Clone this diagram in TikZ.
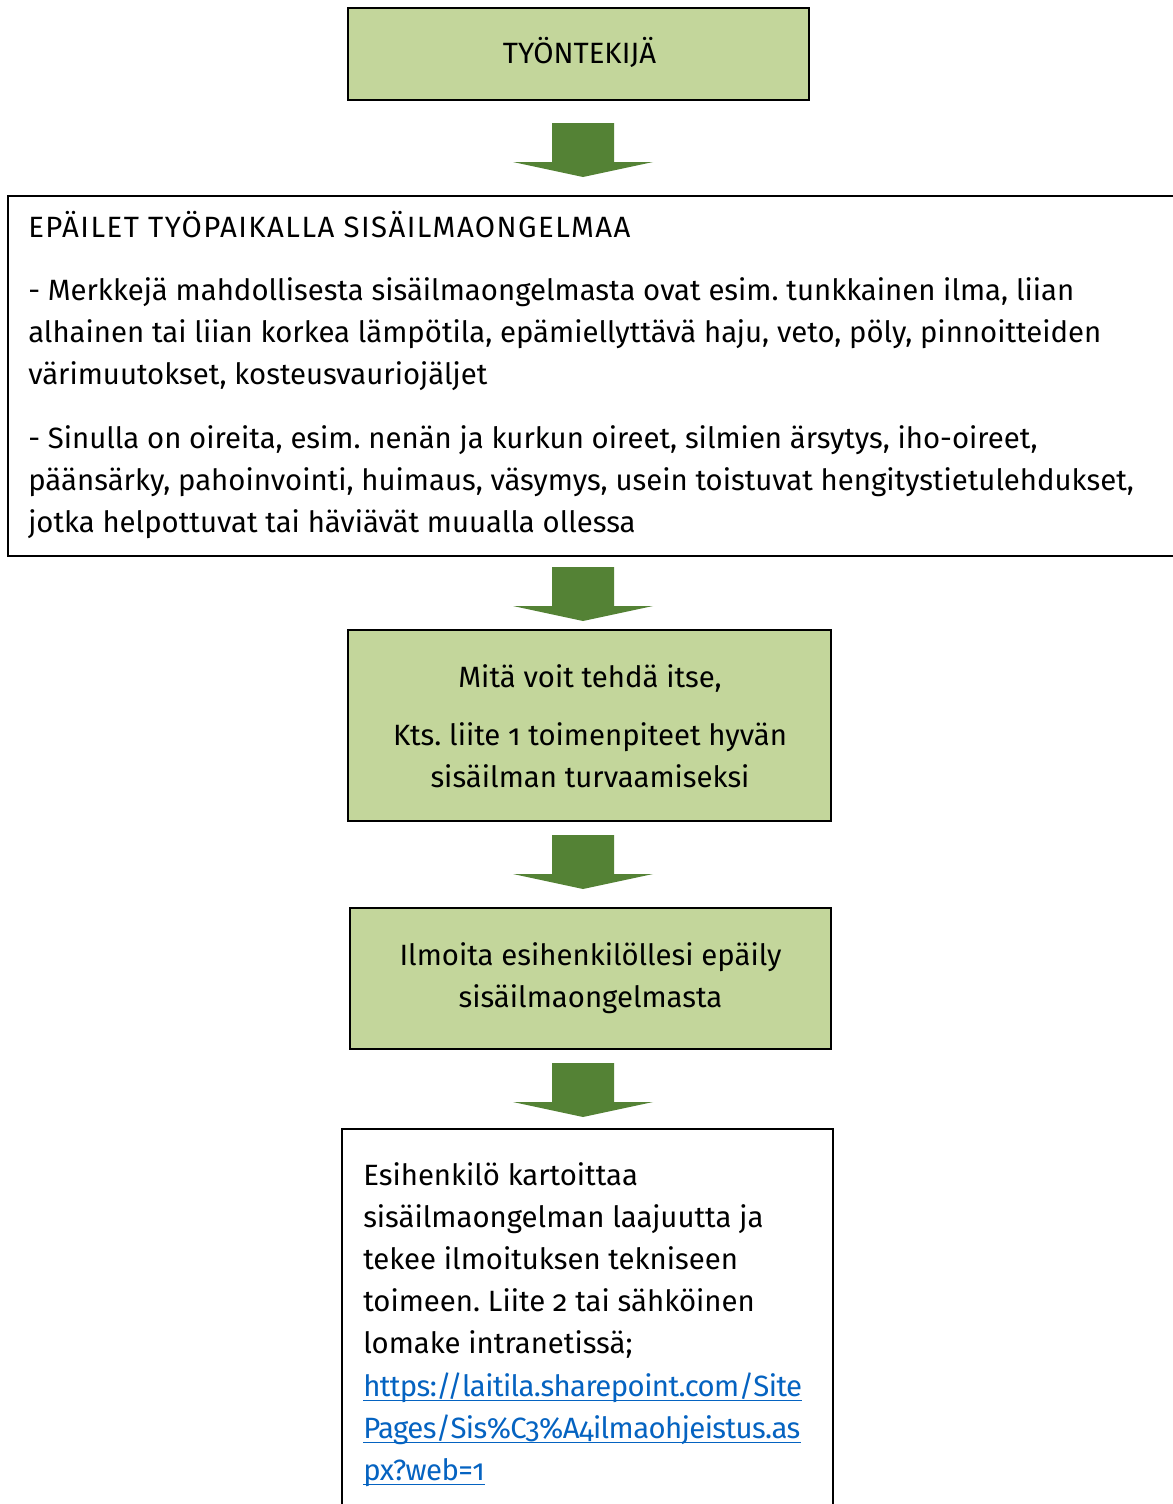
\documentclass[tikz,border=0pt]{standalone}
\usepackage{fontspec}
\setmainfont{Fira Sans}[Numbers=OldStyle]
\usetikzlibrary{fit}
\definecolor{boxgreen}{HTML}{C3D69B}
\definecolor{arrowgreen}{HTML}{548235}
\definecolor{linkblue}{HTML}{0563C1}
\frenchspacing
\begin{document}
\begin{tikzpicture}[x=0.75pt,y=-0.75pt,
  gbox/.style={draw=black, line width=1.4pt, fill=boxgreen, inner sep=0pt},
  wbox/.style={draw=black, line width=1.4pt, fill=white, inner sep=0pt},
  txt/.style={inner sep=0pt, font=\fontsize{22pt}{31.5pt}\selectfont},
  ltxt/.style={txt, anchor=base west},
  ctxt/.style={txt, anchor=base},
  link/.style={ltxt, text=linkblue, font=\fontsize{22pt}{31.5pt}\selectfont\addfontfeature{LetterSpace=-2}},
  uline/.style={draw=linkblue, line width=0.9pt},
  blockarrow/.style={fill=arrowgreen, draw=none}
  ]
\useasboundingbox (0,0) rectangle (1173,1504);
\clip (0,0) rectangle (1173,1504);
\fill[white] (0,0) rectangle (1173,1504);

% boxes
\node[gbox, fit={(348,8) (809,100)}] (b1) {};
\node[wbox, fit={(8,196) (1190,556)}] (b2) {};
\node[gbox, fit={(348,630) (831,821)}] (b3) {};
\node[gbox, fit={(350,908) (831,1049)}] (b4) {};
\node[wbox, fit={(342,1129) (833,1530)}] (b5) {};

% block arrows (connectors)
\newcommand\blockarr[2]{%
  \coordinate (#1) at (583,#2);
  \fill[blockarrow] (#1) ++(-31,0) -- ++(62,0) -- ++(0,39) -- ++(39,0)
     -- ++(-70,15) -- ++(-70,-15) -- ++(39,0) -- cycle;}
\blockarr{a1}{123}
\blockarr{a2}{567}
\blockarr{a3}{835}
\blockarr{a4}{1063}

% box 1
\node[ctxt] (t1) at (579.5,63) {TYÖNTEKIJÄ};

% box 2
\node[ltxt] (t2a) at (28,237) {\addfontfeature{LetterSpace=5}EPÄILET TYÖPAIKALLA SISÄILMAONGELMAA};
\node[ltxt] (t2b) at (28,300) {- Merkkejä mahdollisesta sisäilmaongelmasta ovat esim. tunkkainen ilma, liian};
\node[ltxt] (t2c) at (28,342) {alhainen tai liian korkea lämpötila, epämiellyttävä haju, veto, pöly, pinnoitteiden};
\node[ltxt] (t2d) at (28,384) {värimuutokset, kosteusvauriojäljet};
\node[ltxt] (t2e) at (28,448) {- Sinulla on oireita, esim. nenän ja kurkun oireet, silmien ärsytys, iho-oireet,};
\node[ltxt] (t2f) at (28,490) {päänsärky, pahoinvointi, huimaus, väsymys, usein toistuvat hengitystietulehdukset,};
\node[ltxt] (t2g) at (28,532) {jotka helpottuvat tai häviävät muualla ollessa};

% box 3
\node[ctxt] (t3a) at (590,687) {Mitä voit tehdä itse,};
\node[ctxt] (t3b) at (590,745) {Kts. liite 1 toimenpiteet hyvän};
\node[ctxt] (t3c) at (590,787) {sisäilman turvaamiseksi};

% box 4
\node[ctxt] (t4a) at (590.5,965) {Ilmoita esihenkilöllesi epäily};
\node[ctxt] (t4b) at (590.5,1007) {sisäilmaongelmasta};

% box 5
\node[ltxt] (t5a) at (363,1185) {Esihenkilö kartoittaa};
\node[ltxt] (t5b) at (363,1227) {sisäilmaongelman laajuutta ja};
\node[ltxt] (t5c) at (363,1269) {tekee ilmoituksen tekniseen};
\node[ltxt] (t5d) at (363,1311) {toimeen. Liite 2 tai sähköinen};
\node[ltxt] (t5e) at (363,1353) {lomake intranetissä;};
\node[link] (t5f) at (363,1396) {https://laitila.sharepoint.com/Site};
\node[link] (t5g) at (363,1438) {Pages/Sis\%C3\%A4ilmaohjeistus.as};
\node[link] (t5h) at (363,1480) {px?web=1};
\foreach \n in {t5f,t5g,t5h}
  \draw[uline] ([yshift=-3.2pt]\n.base west) -- ([yshift=-3.2pt]\n.base east);
\end{tikzpicture}
\end{document}
